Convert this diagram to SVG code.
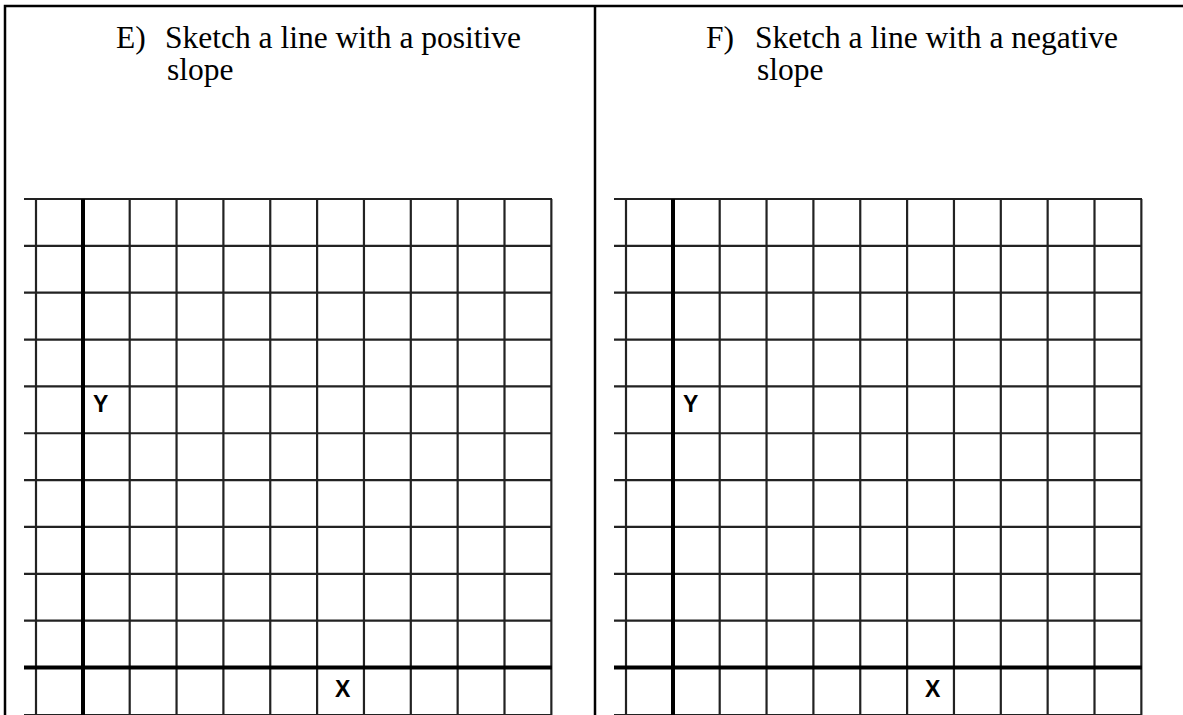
<svg xmlns="http://www.w3.org/2000/svg" width="1183" height="715" viewBox="0 0 1183 715">
<defs>
<style>
.frame{stroke:#000;stroke-width:2.5;fill:none}
.g{stroke:#222;stroke-width:2.2;fill:none}
.ax{stroke:#000;stroke-width:4;fill:none}
.t{font-family:"Liberation Serif","Times New Roman",serif;font-size:31.5px;fill:#000}
.lab{font-family:"Liberation Sans",Arial,sans-serif;font-weight:bold;font-size:23px;fill:#000}
</style>
<g id="gridpat">
<path class="g" d="M24 199H552M24 245.85H552M24 292.7H552M24 339.55H552M24 386.4H552M24 433.25H552M24 480.1H552M24 526.95H552M24 573.8H552M24 620.65H552M24 715H552"/>
<path class="g" d="M36 199V715M129.7 199V715M176.55 199V715M223.4 199V715M270.25 199V715M317.1 199V715M363.95 199V715M410.8 199V715M457.65 199V715M504.5 199V715"/>
<path class="g" stroke="#777" d="M551.35 199V715"/>
<path class="ax" d="M83 199V715M24 667.5H552"/>
</g>
</defs>
<rect width="1183" height="715" fill="#fff"/>
<g id="frame">
<path class="frame" d="M5 715V6H1183M595 6V715"/>
</g>
<g id="panel-E">
<text class="t" x="116" y="48">E)</text>
<text class="t" x="165" y="48">Sketch a line with a positive</text>
<text class="t" x="167" y="80">slope</text>
<use href="#gridpat"/>
<text class="lab" x="93" y="412">Y</text>
<text class="lab" x="335" y="697">X</text>
</g>
<g id="panel-F">
<text class="t" x="706" y="48">F)</text>
<text class="t" x="755" y="48">Sketch a line with a negative</text>
<text class="t" x="757" y="80">slope</text>
<use href="#gridpat" x="590"/>
<text class="lab" x="683" y="412">Y</text>
<text class="lab" x="925" y="697">X</text>
</g>
</svg>
